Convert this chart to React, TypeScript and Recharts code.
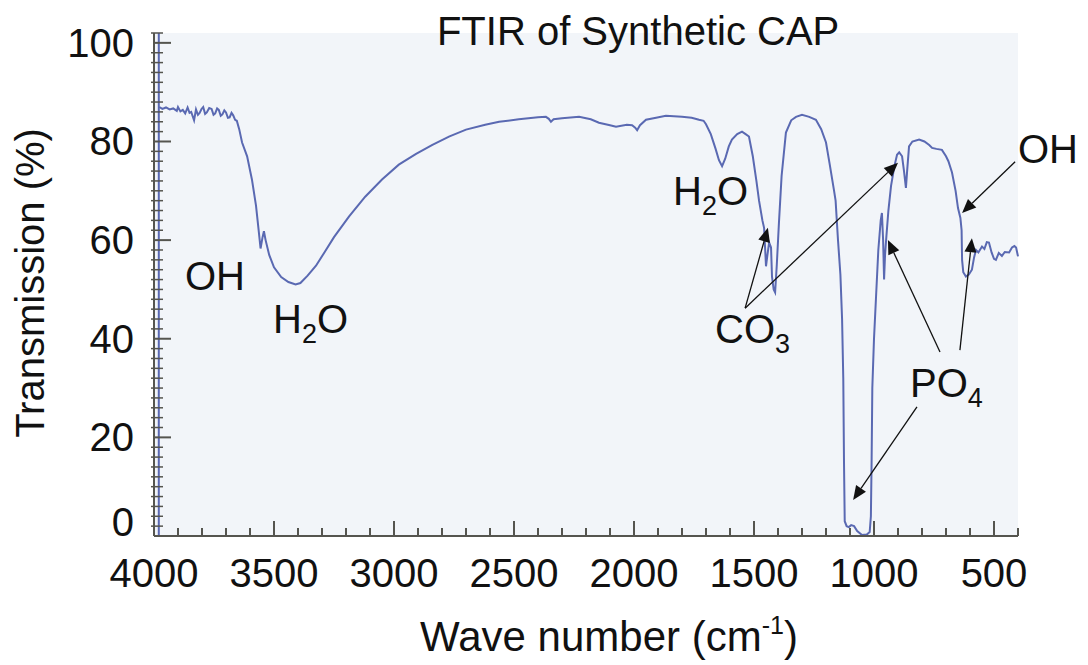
import React from "react";
import {
  LineChart,
  Line,
  XAxis,
  YAxis,
  CartesianGrid,
  ReferenceLine,
  ReferenceDot,
} from "recharts";

// wave number (cm-1)
const waveNumbers = [
  3978, 3965, 3950, 3935, 3920, 3905, 3900, 3890, 3880, 3870, 3860, 3852, 3845, 3833, 3825, 3817,
  3810, 3802, 3795, 3787, 3780, 3770, 3760, 3752, 3745, 3737, 3730, 3722, 3715, 3707, 3700, 3692,
  3685, 3677, 3670, 3662, 3655, 3645, 3633, 3612, 3592, 3575, 3565, 3556, 3548, 3542, 3535, 3520,
  3500, 3470, 3440, 3410, 3390, 3360, 3325, 3290, 3250, 3187, 3120, 3050, 2980, 2908, 2840, 2771,
  2700, 2620, 2562, 2480, 2400, 2367, 2355, 2346, 2335, 2300, 2229, 2180, 2146, 2100, 2075, 2030,
  2008, 1995, 1987, 1975, 1950, 1908, 1867, 1800, 1760, 1729, 1710, 1700, 1680, 1660, 1646, 1633,
  1620, 1605, 1592, 1570, 1550, 1535, 1521, 1505, 1490, 1479, 1465, 1458, 1450, 1444, 1437, 1429,
  1425, 1418, 1412, 1405, 1396, 1385, 1367, 1345, 1325, 1300, 1270, 1242, 1220, 1200, 1185, 1167,
  1160, 1150, 1140, 1133, 1128, 1125, 1122, 1114, 1105, 1095, 1083, 1070, 1050, 1030, 1018, 1013,
  1010, 1007, 1000, 992, 982, 972, 967, 962, 958, 954, 948, 940, 929, 915, 904, 895, 883, 875, 867,
  862, 854, 840, 812, 790, 770, 758, 740, 717, 700, 690, 675, 660, 650, 640, 635, 633, 628, 617,
  605, 592, 583, 575, 565, 550, 540, 530, 521, 510, 500, 492, 480, 467, 455, 437, 425, 415, 408,
  400,
];

// transmission (%)
const transmission = [
  87.0, 86.6, 86.9, 86.5, 86.7, 86.2, 87.0, 86.1, 86.4, 85.7, 86.9, 85.8, 86.0, 84.3, 86.5, 85.4,
  85.8, 86.6, 87.0, 85.6, 85.9, 86.8, 86.6, 85.4, 85.7, 86.7, 86.4, 85.2, 85.5, 86.3, 85.9, 84.8,
  84.9, 85.8, 85.3, 84.4, 84.2, 82.5, 79.8, 77.0, 72.3, 67.0, 62.5, 58.3, 60.5, 61.8, 60.0, 57.0,
  54.5, 52.5, 51.5, 51.0, 51.3, 52.8, 54.8, 57.5, 60.6, 64.8, 68.8, 72.3, 75.3, 77.5, 79.3, 81.0,
  82.4, 83.4, 84.0, 84.5, 84.9, 85.0, 84.6, 84.0, 84.5, 84.7, 85.0, 84.5, 83.8, 83.3, 83.0, 83.4,
  83.3, 82.8, 82.3, 83.3, 84.4, 84.8, 85.2, 85.0, 84.8, 84.4, 84.2, 83.5, 81.5, 78.5, 76.2, 75.0,
  76.5, 79.0, 80.4, 81.5, 82.0, 81.5, 81.0, 77.0, 72.0, 68.0, 64.0, 62.5, 54.7, 57.0, 59.5, 58.5,
  52.6, 50.0, 49.4, 55.0, 63.6, 73.0, 81.8, 84.3, 85.0, 85.4, 85.0, 84.4, 82.5, 79.8, 75.5, 70.2,
  68.0, 60.0, 53.0, 44.0, 32.0, 15.0, 3.0, 2.0, 1.8, 2.2, 2.0, 1.0, 0.2, 0.3, 0.8, 4.0,
  15.0, 30.0, 40.0, 48.0, 58.0, 64.0, 65.5, 60.0, 52.0, 57.0, 61.0, 66.0, 71.0, 75.0, 77.3, 77.8, 77.0, 74.0, 70.6,
  74.0, 79.0, 80.0, 80.4, 80.0, 79.3, 78.7, 78.5, 78.3, 77.0, 76.0, 73.7, 70.0, 66.5, 64.5, 62.0, 56.0, 53.5, 52.6,
  53.0, 54.0, 56.5, 58.0, 57.5, 58.7, 58.2, 59.6, 59.5, 57.5, 56.2, 56.0, 57.4, 56.8, 57.6, 57.5, 58.5, 58.8, 58.5,
  56.7,
];

const xTicks = [
  4000, 3900, 3800, 3700, 3600, 3500, 3400, 3300, 3200, 3100, 3000, 2900, 2800, 2700, 2600, 2500,
  2400, 2300, 2200, 2100, 2000, 1900, 1800, 1700, 1600, 1500, 1400, 1300, 1200, 1100, 1000, 900,
  800, 700, 600, 500, 400,
];
const yTicks = [
  0, 2, 4, 6, 8, 10, 12, 14, 16, 18, 20, 22, 24, 26, 28, 30, 32, 34, 36, 38, 40, 42, 44, 46, 48, 50,
  52, 54, 56, 58, 60, 62, 64, 66, 68, 70, 72, 74, 76, 78, 80, 82, 84, 86, 88, 90, 92, 94, 96, 98,
  100, 102,
];

// peak labels: text, subscript, anchor (wave number, transmission)
const peakLabels = [
  { text: "OH", sub: "", w: 3871, t: 49.9 },
  { text: "H", sub: "2", after: "O", w: 3504, t: 41.2 },
  { text: "H", sub: "2", after: "O", w: 1837, t: 67.1 },
  { text: "CO", sub: "3", w: 1662, t: 39.1 },
  { text: "PO", sub: "4", w: 850, t: 28.2 },
  { text: "OH", sub: "", w: 400, t: 75.7 },
];

// arrows: from (w, t) to (w, t)
const arrows = [
  [1537, 46.2, 1442, 62.5],
  [1537, 46.2, 900, 75.7],
  [725, 37.3, 942, 60.0],
  [642, 37.7, 592, 60.4],
  [821, 26.2, 1087, 7.3],
  [412, 75.9, 633, 65.5],
];

const data = waveNumbers.map((w, i) => ({ w, t: transmission[i] }));

const AXIS = "#55554f";
const LINE = "#5a69b2";
const FONT = "'Liberation Sans', Arial, sans-serif";

function XTick({ x, y, payload }: any) {
  const v = payload.value;
  const major = v % 500 === 0;
  return (
    <g>
      <line x1={x} x2={x} y1={y} y2={y - (major ? 15 : 8)} stroke={AXIS} strokeWidth={2} />
      {major && (
        <text x={x} y={y + 51} textAnchor="middle" fontSize={40} fontFamily={FONT} fill="#111">
          {v}
        </text>
      )}
    </g>
  );
}

function YTick({ x, y, payload }: any) {
  const v = payload.value;
  const major = v % 20 === 0;
  return (
    <g>
      {major ? (
        <line x1={x} x2={x + 17} y1={y} y2={y} stroke={AXIS} strokeWidth={2} />
      ) : (
        <line x1={x - 3} x2={x + 9} y1={y} y2={y} stroke={AXIS} strokeWidth={1.5} />
      )}
      {major && (
        <text
          x={x - 20}
          y={v === 0 ? y - 14 : y}
          textAnchor="end"
          dominantBaseline="central"
          fontSize={40}
          fontFamily={FONT}
          fill="#111"
        >
          {v}
        </text>
      )}
    </g>
  );
}

function Arrow({ x1, y1, x2, y2 }: any) {
  const a = Math.atan2(y2 - y1, x2 - x1);
  const len = 14;
  const half = 6;
  const bx = x2 - len * Math.cos(a);
  const by = y2 - len * Math.sin(a);
  const p1 = `${bx + half * Math.sin(a)},${by - half * Math.cos(a)}`;
  const p2 = `${bx - half * Math.sin(a)},${by + half * Math.cos(a)}`;
  return (
    <g>
      <line x1={x1} y1={y1} x2={bx} y2={by} stroke="#111" strokeWidth={1.3} />
      <polygon points={`${x2},${y2} ${p1} ${p2}`} fill="#111" />
    </g>
  );
}

function PeakText(lbl: any) {
  return ({ cx, cy }: any) => (
    <text x={cx} y={cy} fontSize={40} fontFamily={FONT} fill="#111">
      {lbl.text}
      {lbl.sub && (
        <tspan fontSize={27} dy={10}>
          {lbl.sub}
        </tspan>
      )}
      {lbl.after && (
        <tspan fontSize={40} dy={-10}>
          {lbl.after}
        </tspan>
      )}
    </text>
  );
}

export default function App() {
  return (
    <div style={{ width: 1080, height: 657 }}>
      <LineChart
        width={1080}
        height={657}
        data={data}
        margin={{ top: 25, right: 70, left: 0, bottom: 59 }}
      >
        <CartesianGrid horizontal={false} vertical={false} fill="#f2f5f9" />
        <XAxis
          dataKey="w"
          type="number"
          domain={[400, 4000]}
          reversed
          ticks={xTicks}
          interval={0}
          height={70}
          tickSize={0}
          tickMargin={0}
          tickLine={false}
          axisLine={{ stroke: AXIS, strokeWidth: 2 }}
          tick={<XTick />}
          label={{
            content: () => (
              <text x={601} y={643} textAnchor="middle" fontSize={42} fontFamily={FONT} fill="#111">
                Wave number (cm
                <tspan fontSize={25} dy={-17}>
                  -1
                </tspan>
                <tspan dy={17}>)</tspan>
              </text>
            ),
          }}
        />
        <YAxis
          type="number"
          domain={[0, 102]}
          ticks={yTicks}
          interval={0}
          width={146}
          tickSize={0}
          tickMargin={0}
          tickLine={false}
          axisLine={{ stroke: AXIS, strokeWidth: 2 }}
          tick={<YTick />}
          label={{
            content: () => (
              <text
                x={0}
                y={0}
                transform="translate(36 275) rotate(-90)"
                textAnchor="middle"
                fontSize={40}
                fontFamily={FONT}
                fill="#111"
              >
                Transmission (%)
              </text>
            ),
          }}
        />
        <ReferenceLine x={3980} stroke={LINE} strokeWidth={2} />
        <Line
          type="linear"
          dataKey="t"
          stroke={LINE}
          strokeWidth={2}
          dot={false}
          isAnimationActive={false}
        />
        <ReferenceDot
          x={1983}
          y={99.6}
          ifOverflow="visible"
          shape={({ cx, cy }: any) => (
            <text x={cx} y={cy} textAnchor="middle" fontSize={40} fontFamily={FONT} fill="#111">
              FTIR of Synthetic CAP
            </text>
          )}
        />
        {peakLabels.map((lbl, i) => (
          <ReferenceDot key={`l${i}`} x={lbl.w} y={lbl.t} ifOverflow="visible" shape={PeakText(lbl)} />
        ))}
        {arrows.map((a, i) => (
          <ReferenceLine
            key={`a${i}`}
            segment={[
              { x: a[0], y: a[1] },
              { x: a[2], y: a[3] },
            ]}
            ifOverflow="visible"
            shape={<Arrow />}
          />
        ))}
      </LineChart>
    </div>
  );
}
